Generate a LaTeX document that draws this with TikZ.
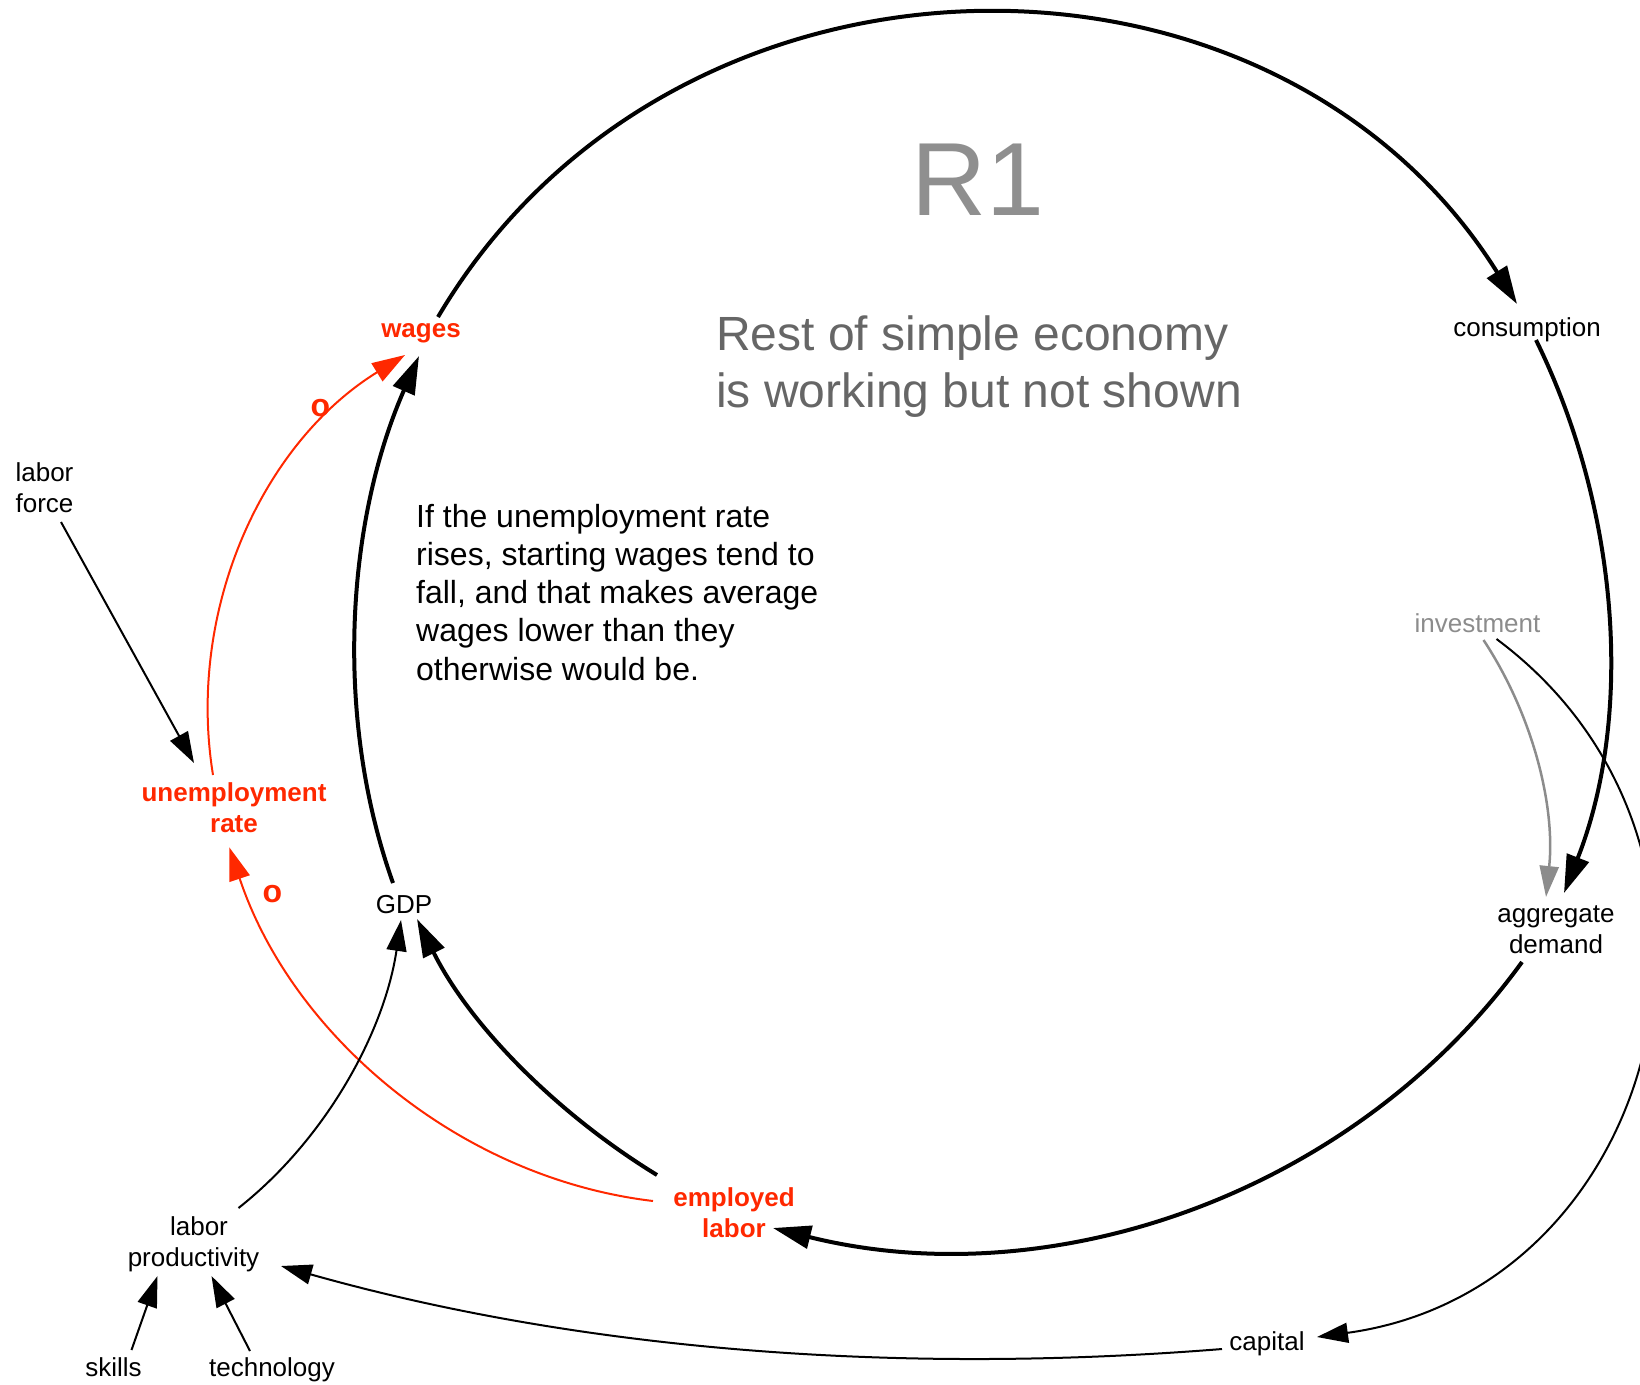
\documentclass[tikz,border=0pt]{standalone}
\usepackage{fontspec}
\setmainfont{Liberation Sans}
\usetikzlibrary{arrows.meta,calc}

\definecolor{linkred}{RGB}{255,40,0}
\definecolor{softgray}{RGB}{140,140,140}
\definecolor{loopgray}{RGB}{143,143,143}
\definecolor{textgray}{RGB}{102,102,102}

% two centred lines whose first baseline is the node baseline
\newcommand{\twoline}[2]{\begin{tabular}[t]{@{}c@{}}#1\\#2\end{tabular}}

\begin{document}
\begin{tikzpicture}[x=1pt,y=-1pt,
  lbl/.style={inner sep=0pt, anchor=base, font=\fontsize{26}{31}\selectfont},
  redlbl/.style={lbl, text=linkred, font=\fontsize{26}{31}\selectfont\bfseries},
  pollbl/.style={lbl, text=linkred, font=\fontsize{32}{38}\selectfont\bfseries},
  mainlink/.style={line width=4pt, -{Triangle[length=38pt,width=23pt]}},
  thinlink/.style={line width=2pt, -{Triangle[length=31pt,width=20pt]}},
  neglink/.style={line width=2pt, draw=linkred, -{Triangle[length=33pt,width=21pt]}},
  greylink/.style={line width=2.5pt, draw=softgray, -{Triangle[length=31pt,width=19pt]}}
]
\useasboundingbox (0,0) rectangle (1640,1384);

% variables
\node[redlbl] (wages) at (421,337) {wages};
\node[lbl] (cons) at (1527,336) {consumption};
\node[lbl] (gdp) at (404,913) {GDP};
\node[lbl] (agg) at (1556,922) {\twoline{aggregate}{demand}};
\node[lbl, text=softgray] (inv) at (1477.5,632) {investment};
\node[redlbl] (empl) at (734,1206) {\twoline{employed}{labor}};
\node[lbl] (cap) at (1267,1350) {capital};
\node[redlbl] (unemp) at (234,801) {\twoline{unemployment}{rate}};
\node[lbl] (lforce) at (44.5,481) {\twoline{labor}{force}};
\node[lbl] (lprod) at (193.5,1235) {\twoline{\hspace*{11pt}labor}{productivity}};
\node[lbl] (skills) at (113.5,1376) {skills};
\node[lbl] (tech) at (272,1376) {technology};

% loop name and notes
\node[lbl, text=loopgray, font=\fontsize{104}{104}\selectfont] (loop) at (978,215) {R1};
\node[lbl, anchor=base west, text=textgray, font=\fontsize{48}{57}\selectfont] (rest) at (716,350)
  {\begin{tabular}[t]{@{}l@{}}Rest of simple economy\\is working but not shown\end{tabular}};
\node[lbl, anchor=base west, font=\fontsize{32}{38.25}\selectfont] (note) at (416,527)
  {\begin{tabular}[t]{@{}l@{}}If the unemployment rate\\rises, starting wages tend to\\fall, and that makes average\\wages lower than they\\otherwise would be.\end{tabular}};

% polarity marks
\node[pollbl] (o1) at (320.5,416) {o};
\node[pollbl] (o2) at (272.5,902) {o};

% reinforcing loop R1
\draw[mainlink] ($(wages.base)+(17,-20)$) .. controls +(234.5,-397) and +(-244.8,-391) .. ($(cons.base)+(-10,-32)$);
\draw[mainlink] ($(cons.base)+(9,4)$) .. controls +(83.6,170.2) and +(69.7,-177) .. ($(agg.base)+(8,-29)$);
\draw[mainlink] ($(agg.base)+(-34,40)$) .. controls +(-166.5,230) and +(280.8,70) .. ($(empl.base)+(39,22)$);
\draw[mainlink] ($(empl.base)+(-77,-31)$) .. controls +(-100.7,-61.7) and +(52.5,105.8) .. ($(gdp.base)+(13,6)$);
\draw[mainlink] ($(gdp.base)+(-11,-30)$) .. controls +(-60.1,-168.5) and +(-71.7,163.2) .. ($(wages.base)+(-2,19)$);

% balancing links through unemployment
\draw[neglink] ($(unemp.base)+(-21,-26)$) .. controls +(-26.8,-165.2) and +(-142.4,88) .. ($(wages.base)+(-16,18)$);
\draw[neglink] ($(empl.base)+(-81,-5)$) .. controls +(-195.4,-23.3) and +(62.1,186.7) .. ($(unemp.base)+(-4.7,46.3)$);

% other influences
\draw[thinlink] ($(lforce.base)+(16.5,41)$) -- ($(unemp.base)+(-40,-38)$);
\draw[thinlink] ($(lprod.base)+(45,-27)$) .. controls +(88.1,-69.5) and +(-16.4,111) .. ($(gdp.base)+(-3,7)$);
\draw[thinlink] ($(cap.base)+(-45,-1)$) .. controls +(-316.5,25.4) and +(305.6,86.2) .. ($(lprod.base)+(87.5,31)$);
\draw[thinlink] ($(inv.base)+(19,7)$) .. controls +(279.3,208.2) and +(345.2,-47.3) .. ($(cap.base)+(50,-13)$);
\draw[greylink] ($(inv.base)+(6,8)$) .. controls +(49.9,75.8) and +(9.4,-90.2) .. ($(agg.base)+(-10,-25)$);
\draw[thinlink] ($(skills.base)+(18,-26)$) -- ($(lprod.base)+(-36,41)$);
\draw[thinlink] ($(tech.base)+(-22,-25)$) -- ($(lprod.base)+(18,41)$);
\end{tikzpicture}
\end{document}
